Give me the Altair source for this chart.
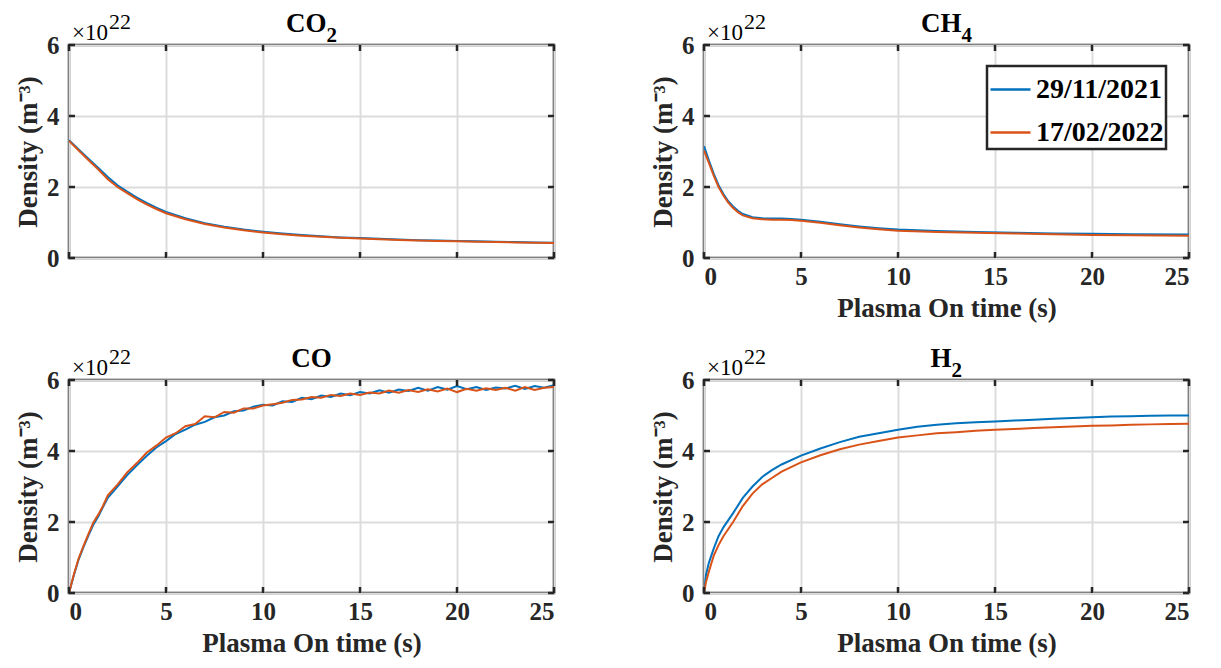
import altair as alt
import pandas as pd

SERIES = ["29/11/2021", "17/02/2022"]
COLORS = ["#0072BD", "#D95319"]

X_TICKS = [0, 5, 10, 15, 20, 25]
Y_TICKS = [0, 2, 4, 6]

# CO2 (top-left)
CO2_T = [0, 0.5, 1, 1.5, 2, 2.5, 3, 3.5, 4, 4.5, 5, 6, 7, 8, 9, 10, 11, 12, 13, 14,
         15, 16, 17, 18, 19, 20, 21, 22, 23, 24, 25]
CO2_BLUE = [3.32, 3.06, 2.80, 2.54, 2.28, 2.05, 1.87, 1.70, 1.55, 1.42, 1.30, 1.12, 0.98,
            0.88, 0.80, 0.74, 0.69, 0.65, 0.61, 0.58, 0.56, 0.54, 0.52, 0.50, 0.49, 0.48,
            0.47, 0.46, 0.45, 0.44, 0.43]
CO2_ORANGE = [3.30, 3.03, 2.76, 2.50, 2.22, 2.00, 1.83, 1.66, 1.51, 1.38, 1.26, 1.09, 0.96,
              0.86, 0.78, 0.72, 0.67, 0.63, 0.60, 0.57, 0.55, 0.53, 0.51, 0.49, 0.48, 0.47,
              0.46, 0.45, 0.44, 0.43, 0.42]

# CH4 (top-right)
CH4_T = [0, 0.25, 0.5, 0.75, 1, 1.25, 1.5, 1.75, 2, 2.5, 3, 3.5, 4, 4.5, 5, 6, 7, 8, 9,
         10, 12, 14, 16, 18, 20, 22, 25]
CH4_BLUE = [3.15, 2.75, 2.38, 2.05, 1.80, 1.60, 1.45, 1.33, 1.24, 1.15, 1.12, 1.11, 1.11,
            1.10, 1.08, 1.02, 0.95, 0.89, 0.84, 0.80, 0.76, 0.73, 0.71, 0.69, 0.68, 0.67, 0.66]
CH4_ORANGE = [3.03, 2.68, 2.32, 2.00, 1.76, 1.56, 1.41, 1.29, 1.20, 1.12, 1.09, 1.08, 1.08,
              1.07, 1.05, 0.99, 0.92, 0.86, 0.81, 0.77, 0.73, 0.71, 0.69, 0.67, 0.65, 0.64, 0.63]

# CO (bottom-left)
CO_T = [0, 0.25, 0.5, 0.75, 1, 1.25, 1.5, 1.75, 2, 2.5, 3, 3.5, 4, 4.5, 5, 5.5, 6, 6.5,
        7, 7.5, 8, 8.5, 9, 9.5, 10, 10.5, 11, 11.5, 12, 12.5, 13, 13.5, 14, 14.5, 15,
        15.5, 16, 16.5, 17, 17.5, 18, 18.5, 19, 19.5, 20, 20.5, 21, 21.5, 22, 22.5, 23,
        23.5, 24, 24.5, 25]
CO_BLUE = [0, 0.50, 0.95, 1.30, 1.62, 1.92, 2.15, 2.42, 2.68, 3.00, 3.32, 3.60, 3.86,
           4.10, 4.28, 4.48, 4.60, 4.74, 4.82, 4.95, 5.00, 5.12, 5.14, 5.25, 5.30, 5.28,
           5.40, 5.38, 5.50, 5.46, 5.56, 5.52, 5.62, 5.57, 5.66, 5.62, 5.71, 5.64, 5.73,
           5.69, 5.78, 5.70, 5.80, 5.73, 5.83, 5.74, 5.80, 5.72, 5.79, 5.76, 5.84, 5.75,
           5.83, 5.78, 5.85]
CO_ORANGE = [0, 0.52, 0.98, 1.33, 1.66, 1.98, 2.20, 2.45, 2.75, 3.05, 3.40, 3.66, 3.95,
             4.15, 4.38, 4.50, 4.70, 4.76, 4.98, 4.95, 5.10, 5.08, 5.20, 5.20, 5.28, 5.32,
             5.36, 5.44, 5.45, 5.52, 5.50, 5.58, 5.55, 5.62, 5.58, 5.65, 5.62, 5.70, 5.64,
             5.72, 5.66, 5.74, 5.68, 5.76, 5.66, 5.75, 5.70, 5.77, 5.72, 5.78, 5.70, 5.80,
             5.72, 5.78, 5.80]

# H2 (bottom-right)
H2_T = [0, 0.1, 0.25, 0.5, 0.75, 1, 1.5, 2, 2.5, 3, 3.5, 4, 5, 6, 7, 8, 9, 10, 11, 12,
        13, 14, 15, 16, 17, 18, 19, 20, 21, 22, 23, 24, 25]
H2_BLUE = [0, 0.50, 0.85, 1.25, 1.60, 1.85, 2.25, 2.68, 3.00, 3.27, 3.46, 3.62, 3.87,
           4.07, 4.25, 4.40, 4.50, 4.60, 4.68, 4.74, 4.78, 4.81, 4.83, 4.86, 4.88, 4.91,
           4.93, 4.95, 4.97, 4.98, 4.99, 5.00, 5.00]
H2_ORANGE = [0, 0.30, 0.60, 1.05, 1.35, 1.60, 2.00, 2.45, 2.80, 3.06, 3.24, 3.42, 3.68,
             3.88, 4.05, 4.18, 4.28, 4.38, 4.44, 4.50, 4.53, 4.57, 4.60, 4.62, 4.65, 4.67,
             4.69, 4.71, 4.72, 4.74, 4.75, 4.76, 4.77]

FONT = "Liberation Serif, Times New Roman, serif"
AX = "#262626"
W, H = 485, 213
TK = 6


def make_df(t, blue, orange):
    rows = [{"t": a, "v": b, "series": SERIES[0]} for a, b in zip(t, blue)]
    rows += [{"t": a, "v": b, "series": SERIES[1]} for a, b in zip(t, orange)]
    return pd.DataFrame(rows)


def text_layer(s, x, y, size, weight, align="left"):
    return alt.Chart(pd.DataFrame({"s": [s]})).mark_text(
        font=FONT, fontSize=size, fontWeight=weight, align=align,
        baseline="alphabetic", color="black"
    ).encode(text="s:N", x=alt.value(x), y=alt.value(y))


def panel(t, blue, orange, main, sub, main_right, show_x, legend):
    df = make_df(t, blue, orange)
    xs = alt.Scale(domain=[0, 25], nice=False, zero=False)
    ys = alt.Scale(domain=[0, 6], nice=False)

    xa = alt.Axis(values=X_TICKS, grid=True, ticks=False, domain=False, labels=show_x,
                  labelFont=FONT, titleFont=FONT,
                  title="Plasma On time (s)" if show_x else None)
    ya = alt.Axis(values=Y_TICKS, grid=True, ticks=False, domain=False,
                  labelFont=FONT, titleFont=FONT, title="Density (m⁻³)")

    if legend:
        leg = alt.Legend(title=None, orient="none", legendX=283, legendY=21,
                         symbolType="stroke", symbolSize=1600, symbolStrokeWidth=2.5,
                         labelFont=FONT, labelFontSize=28, labelFontWeight="bold",
                         labelColor="black", fillColor="white", strokeColor=AX,
                         padding=2, rowPadding=7, labelOffset=4)
    else:
        leg = None

    xtd = pd.DataFrame({"t": X_TICKS})
    ytd = pd.DataFrame({"v": Y_TICKS})
    tick_rule = dict(color=AX, strokeWidth=2.5)

    lines = alt.Chart(df).mark_line(strokeWidth=2, clip=True).encode(
        x=alt.X("t:Q", scale=xs, axis=xa),
        y=alt.Y("v:Q", scale=ys, axis=ya),
        color=alt.Color("series:N", scale=alt.Scale(domain=SERIES, range=COLORS),
                        sort=SERIES, legend=leg),
    )
    xt_top = alt.Chart(xtd).mark_rule(**tick_rule).encode(
        x=alt.X("t:Q", scale=xs, axis=xa), y=alt.value(0), y2=alt.value(TK))
    xt_bot = alt.Chart(xtd).mark_rule(**tick_rule).encode(
        x=alt.X("t:Q", scale=xs, axis=xa), y=alt.value(H - TK), y2=alt.value(H))
    yt_left = alt.Chart(ytd).mark_rule(**tick_rule).encode(
        y=alt.Y("v:Q", scale=ys, axis=ya), x=alt.value(0), x2=alt.value(TK))
    yt_right = alt.Chart(ytd).mark_rule(**tick_rule).encode(
        y=alt.Y("v:Q", scale=ys, axis=ya), x=alt.value(W - TK), x2=alt.value(W))

    layers = [lines, xt_top, xt_bot, yt_left, yt_right]
    if sub:
        layers.append(text_layer(main, main_right, -13, 27, "bold", "right"))
        layers.append(text_layer(sub, main_right, -3, 21, "bold", "left"))
    else:
        layers.append(text_layer(main, W / 2, -13, 27, "bold", "center"))
    layers.append(text_layer("×10", 3, -5, 23, "normal", "left"))
    layers.append(text_layer("22", 40, -16, 22, "normal", "left"))

    return alt.layer(*layers).properties(width=W, height=H)


p1 = panel(CO2_T, CO2_BLUE, CO2_ORANGE, "CO", "2", W / 2 + 15, False, False)
p2 = panel(CH4_T, CH4_BLUE, CH4_ORANGE, "CH", "4", W / 2 + 15, True, True)
p3 = panel(CO_T, CO_BLUE, CO_ORANGE, "CO", None, W / 2, True, False)
p4 = panel(H2_T, H2_BLUE, H2_ORANGE, "H", "2", W / 2 + 5, True, False)

chart = alt.concat(p1, p2, p3, p4, columns=2,
                   spacing={"row": 20, "column": 91}).resolve_scale(
    color="independent"
).properties(
    padding={"left": 5, "top": 0, "right": 5, "bottom": 2}
).configure(background="white").configure_view(
    stroke=AX, strokeWidth=2.5
).configure_axis(
    labelFont=FONT, labelFontSize=25, labelFontWeight="bold", labelColor=AX,
    titleFont=FONT, titleFontSize=27, titleFontWeight="bold", titleColor=AX,
    gridColor="#dcdcdc", gridWidth=2, gridOpacity=1
).configure_axisX(labelPadding=6, titlePadding=6).configure_axisY(
    labelPadding=10, titlePadding=4
).configure_legend(strokeWidth=2.5)

chart.save("out.html", embed_options={"renderer": "svg", "actions": False})
